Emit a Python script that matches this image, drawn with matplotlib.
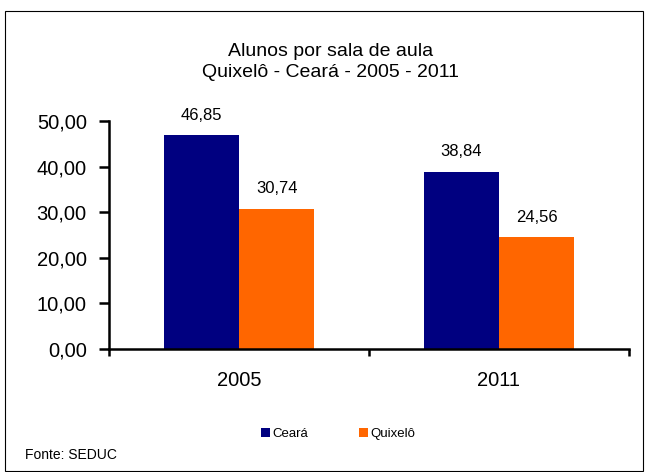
import matplotlib
matplotlib.use("Agg")
import matplotlib.pyplot as plt
from matplotlib.patches import Rectangle
import numpy as np

plt.rcParams['font.family'] = ['Liberation Sans', 'DejaVu Sans']

categories = ["2005", "2011"]
series_names = ["Ceará", "Quixelô"]
ceara = [46.85, 38.84]
quixelo = [30.74, 24.56]
yticks = [0, 10, 20, 30, 40, 50]
colors = ["#000080", "#FF6600"]

def br(v):
    return f"{v:.2f}".replace(".", ",")

fig = plt.figure(figsize=(6.47, 4.72), dpi=100)
ax = fig.add_axes([109/647, 1-349/472, 520/647, 228/472])

x = np.arange(len(categories))
w = 0.29
b1 = ax.bar(x - w/2, ceara, w, color=colors[0], label=series_names[0])
b2 = ax.bar(x + w/2, quixelo, w, color=colors[1], label=series_names[1])

for bars, vals in ((b1, ceara), (b2, quixelo)):
    for rect, v in zip(bars, vals):
        ax.annotate(br(v), (rect.get_x() + rect.get_width()/2, v),
                    xytext=(0, 9), textcoords="offset points",
                    ha="center", va="bottom", fontsize=12)

ax.set_xlim(-0.5, 1.5)
ax.set_ylim(0, 50)
ax.set_yticks(yticks)
ax.set_yticklabels([br(v) for v in yticks], fontsize=14.5)
ax.tick_params(axis='y', direction='out', length=7, width=1.8, pad=9)

ax.set_xticks(x)
ax.set_xticklabels(categories, fontsize=14.5)
ax.tick_params(axis='x', which='major', length=0, pad=16)
ax.set_xticks([-0.5, 0.5, 1.5], minor=True)
ax.tick_params(axis='x', which='minor', direction='out', length=5, width=1.8)

for s in ("top", "right"):
    ax.spines[s].set_visible(False)
for s in ("left", "bottom"):
    ax.spines[s].set_linewidth(1.8)

fig.text(331/647, 1-62/472, "Alunos por sala de aula\nQuixelô - Ceará - 2005 - 2011",
         ha="center", va="center", fontsize=14, linespacing=1.25)

leg = fig.legend(handles=[b1, b2], labels=series_names, loc="center",
                 bbox_to_anchor=(338/647, 1-434/472), ncol=2, frameon=False,
                 fontsize=9.5, handlelength=0.7, handleheight=0.7,
                 handletextpad=0.2, columnspacing=3.8)

fig.text(25/647, 1-455/472, "Fonte: SEDUC", ha="left", va="center", fontsize=10)

fig.patches.append(Rectangle((5/647, 1/472), 638/647, 460/472,
                             transform=fig.transFigure, fill=False,
                             edgecolor="black", linewidth=0.8))

fig.savefig("out.png", dpi=100)
